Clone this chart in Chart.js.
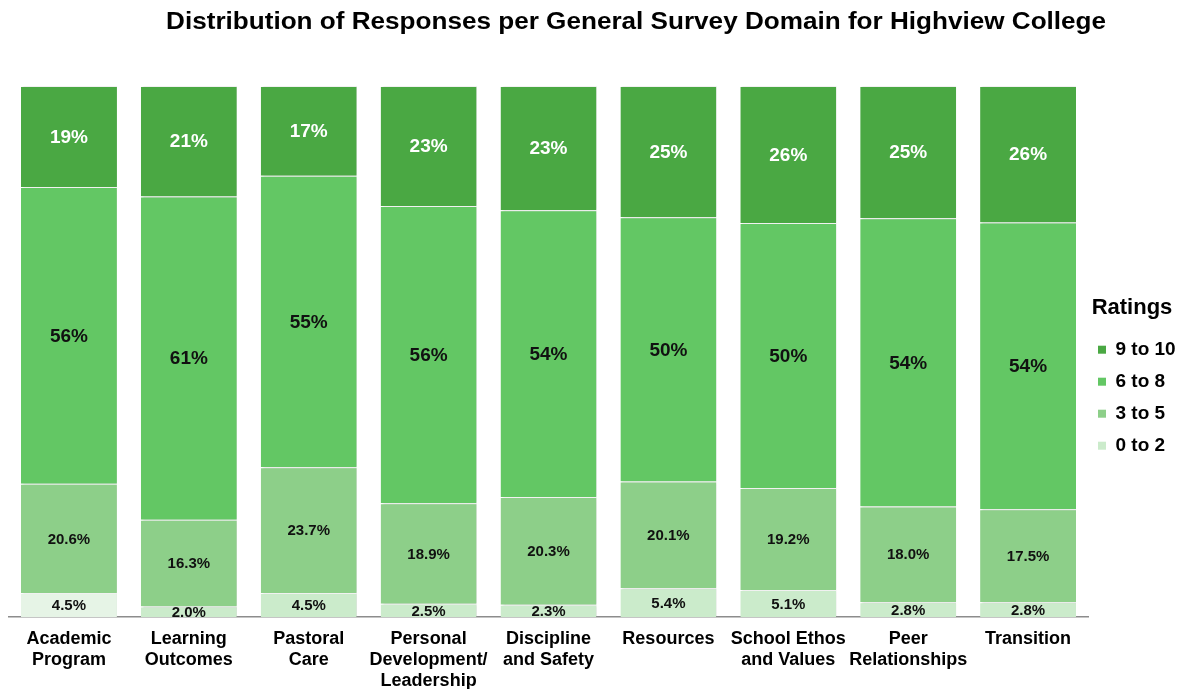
<!DOCTYPE html>
<html lang="en">
<head>
  <meta charset="UTF-8">
  <title>Distribution of Responses per General Survey Domain</title>
  <script src="https://cdn.jsdelivr.net/npm/chart.js"></script>
  <style>
    * { box-sizing: border-box; margin: 0; padding: 0; }
    body { background: #FFFFFF; font-family: 'Liberation Sans', Arial, sans-serif; }
    #wrap { position: relative; width: 1182px; height: 689px; }
    #title {
      position: absolute;
      top: 10px;
      left: 0;
      width: 1182px;
      padding-left: 90px;       /* title sits right of centre, as in the source */
      text-align: center;
      color: #000000;
    }
    #title span {
      display: inline-block;
      font-weight: 700;
      font-size: 23px;
      line-height: 23px;
      transform: scaleX(1.135); /* source text is drawn a bit wide */
    }
    canvas { display: block; }
  </style>
</head>
<body>
  <div id="wrap">
    <div id="title"><span>Distribution of Responses per General Survey Domain for Highview College</span></div>
    <canvas id="chart" width="1182" height="689"></canvas>
  </div>

  <script>
    const categories = [
      ['Academic', 'Program'],
      ['Learning', 'Outcomes'],
      ['Pastoral', 'Care'],
      ['Personal', 'Development/', 'Leadership'],
      ['Discipline', 'and Safety'],
      ['Resources'],
      ['School Ethos', 'and Values'],
      ['Peer', 'Relationships'],
      ['Transition']
    ];
    const seriesNames = ['0 to 2', '3 to 5', '6 to 8', '9 to 10'];
    const rating0to2  = [4.5, 2.0, 4.5, 2.5, 2.3, 5.4, 5.1, 2.8, 2.8];
    const rating3to5  = [20.6, 16.3, 23.7, 18.9, 20.3, 20.1, 19.2, 18.0, 17.5];
    const rating6to8  = [55.9, 60.9, 54.9, 56.0, 54.0, 49.8, 49.9, 54.3, 54.0];
    const rating9to10 = [19.0, 20.8, 16.9, 22.6, 23.4, 24.7, 25.8, 24.9, 25.7];

    const colors = {
      r0: '#CBEBCB',
      r0first: '#E6F4E6',
      r3: '#8DCF89',
      r6: '#63C764',
      r9: '#4AA843'
    };
    const FONT = "'Liberation Sans', Arial, sans-serif";
    const LEGEND_WIDTH = 94;

    // segment labels, centred in each bar piece
    const segmentLabels = {
      id: 'segmentLabels',
      afterDatasetsDraw(chart) {
        const ctx = chart.ctx;
        ctx.save();
        ctx.textAlign = 'center';
        ctx.textBaseline = 'middle';
        chart.data.datasets.forEach((ds, di) => {
          const meta = chart.getDatasetMeta(di);
          const big = di >= 2;
          ctx.font = 'bold ' + (big ? 19 : 15) + 'px ' + FONT;
          ctx.fillStyle = di === 3 ? '#FFFFFF' : '#111111';
          meta.data.forEach((bar, i) => {
            const v = ds.data[i];
            const txt = big ? Math.round(v) + '%' : v.toFixed(1) + '%';
            const p = bar.getCenterPoint();
            ctx.fillText(txt, p.x, p.y + 1);
          });
        });
        ctx.restore();
      }
    };

    // soft shadow on the right edge of the bars
    const barShadow = {
      id: 'barShadow',
      beforeDatasetsDraw(chart) {
        const ctx = chart.ctx;
        ctx.save();
        ctx.shadowColor = 'rgba(0,0,0,0.18)';
        ctx.shadowOffsetX = 2;
        ctx.shadowOffsetY = 0;
        ctx.shadowBlur = 2;
      },
      afterDatasetsDraw(chart) {
        chart.ctx.restore();
      }
    };

    // fixed legend width, nudged left/up a little
    const legendFit = {
      id: 'legendFit',
      beforeInit(chart) {
        const fit = chart.legend.fit;
        chart.legend.fit = function () {
          fit.call(this);
          this.width = LEGEND_WIDTH;
        };
      },
      afterLayout(chart) {
        const lg = chart.legend;
        lg.left -= 3; lg.right -= 3;
        lg.top -= 5; lg.bottom -= 5;
      }
    };

    const ctx = document.getElementById('chart').getContext('2d');
    new Chart(ctx, {
      type: 'bar',
      plugins: [barShadow, segmentLabels, legendFit],
      data: {
        labels: categories,
        datasets: [
          { label: seriesNames[0], data: rating0to2,
            backgroundColor: rating0to2.map((v, i) => i === 0 ? colors.r0first : colors.r0) },
          { label: seriesNames[1], data: rating3to5, backgroundColor: colors.r3 },
          { label: seriesNames[2], data: rating6to8, backgroundColor: colors.r6 },
          { label: seriesNames[3], data: rating9to10, backgroundColor: colors.r9 }
        ].map(d => Object.assign(d, {
          borderColor: '#FFFFFF',
          borderWidth: { top: 1, right: 0, bottom: 0, left: 0 },
          borderSkipped: false,
          barPercentage: 0.8,
          categoryPercentage: 1.0
        }))
      },
      options: {
        responsive: false,
        animation: false,
        layout: { padding: { top: 86, left: 9, right: 0, bottom: 0 } },
        plugins: {
          tooltip: { enabled: false },
          legend: {
            position: 'right',
            reverse: true,
            title: {
              display: true,
              text: 'Ratings',
              color: '#000000',
              font: { family: FONT, size: 22, weight: 'bold' },
              padding: { top: 0, bottom: 4 }
            },
            labels: {
              boxWidth: 8,
              boxHeight: 8,
              padding: 13,
              color: '#000000',
              font: { family: FONT, size: 19, weight: 'bold' },
              generateLabels(chart) {
                return chart.data.datasets.map((ds, i) => ({
                  text: ds.label,
                  fillStyle: [colors.r0, colors.r3, colors.r6, colors.r9][i],
                  strokeStyle: 'rgba(0,0,0,0)',
                  lineWidth: 0,
                  datasetIndex: i,
                  hidden: false
                }));
              }
            }
          }
        },
        scales: {
          x: {
            stacked: true,
            grid: { display: false, drawTicks: false },
            border: { display: true, color: '#8C8C8C', width: 1.5 },
            afterFit(scale) { scale.height = 72; },
            ticks: {
              color: '#000000',
              padding: 12,
              maxRotation: 0,
              autoSkip: false,
              font: { family: FONT, size: 18, weight: 'bold', lineHeight: 1.167 }
            }
          },
          y: {
            stacked: true,
            display: false,
            min: 0,
            max: 100
          }
        }
      }
    });
  </script>
</body>
</html>
